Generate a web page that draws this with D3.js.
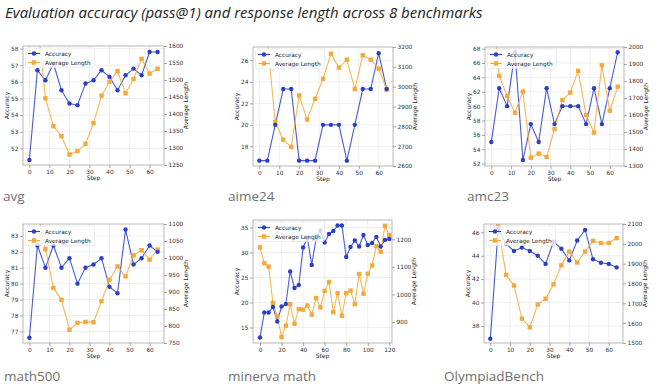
<!DOCTYPE html>
<html>
<head>
<meta charset="utf-8">
<script src="https://cdn.jsdelivr.net/npm/d3@7"></script>
<style>
  body { margin: 0; background: #fff; }
  svg { display: block; }
</style>
</head>
<body>
<svg id="chart" width="660" height="390"></svg>
<script>

// Data
var steps = [0, 4, 8, 12, 16, 20, 24, 28, 32, 36, 40, 44, 48, 52, 56, 60, 64];
var minervaSteps = [0, 4, 8, 12, 16, 20, 24, 28, 32, 36, 40, 44, 48, 52, 56, 60,
  64, 68, 72, 76, 80, 84, 88, 92, 96, 100, 104, 108, 112, 116, 120];

var avgAcc = [51.3, 56.7, 56.1, 57.1, 55.5, 54.7, 54.6, 55.9, 56.1, 56.7, 56.3, 55.5, 56.4, 56.8, 56.4, 57.8, 57.8];
var avgLen = [1750, 1680, 1446, 1364, 1335, 1281, 1291, 1312, 1373, 1454, 1495, 1526, 1461, 1503, 1562, 1519, 1533];

var aimeAcc = [16.67, 16.67, 20, 23.33, 23.33, 16.67, 16.67, 16.67, 20, 20, 20, 16.67, 20, 23.33, 23.33, 26.67, 23.33];
var aimeLen = [3400, 3230, 2822, 2733, 2696, 2956, 2834, 2939, 3040, 3166, 3096, 3136, 2988, 3158, 3136, 3091, 2985];

var amcAcc = [55, 62.5, 60, 67.5, 52.5, 57.5, 55, 62.5, 57.5, 60, 60, 60, 57.5, 62.5, 57.5, 62.5, 67.5];
var amcLen = [2300, 1830, 1712, 1613, 1738, 1349, 1373, 1353, 1517, 1688, 1732, 1860, 1600, 1497, 1892, 1625, 1767];

var math500Acc = [76.6, 82.4, 81.0, 82.4, 81.0, 81.6, 80.0, 81.0, 81.2, 81.6, 79.8, 79.4, 83.4, 81.2, 81.6, 82.4, 82.0];
var math500Len = [1200, 1140, 1026, 912, 877, 789, 809, 812, 811, 873, 936, 975, 946, 1008, 1023, 995, 1025];

var minervaAcc = [13.0, 18.0, 18.0, 19.1, 16.2, 19.2, 19.7, 26.2, 22.9, 23.5, 31.0, 32.9, 27.5, 32.7, 34.4, 32.0,
  33.7, 34.3, 35.4, 35.4, 29.1, 31.1, 32.4, 31.2, 33.5, 31.5, 31.9, 33.1, 31.2, 32.5, 32.7];
var minervaLen = [1171, 1113, 1101, 969, 921, 845, 887, 965, 894, 947, 945, 960, 927, 987, 953, 1013,
  1045, 936, 1005, 923, 1005, 1014, 965, 1074, 1003, 1075, 1105, 1175, 1155, 1249, 1215];

var olyAcc = [36.9, 46.3, 45.0, 44.4, 44.7, 44.4, 44.0, 43.3, 45.2, 44.6, 43.6, 45.3, 46.2, 43.7, 43.4, 43.3, 43.0];
var olyLen = [2150, 2088, 1843, 1790, 1623, 1579, 1694, 1723, 1796, 1892, 1961, 1906, 1961, 2015, 2004, 2004, 2029];

// Tick labels
var stepTicks = [0, 10, 20, 30, 40, 50, 60];
var minervaStepTicks = [0, 20, 40, 60, 80, 100, 120];
var avgAccTicks = [52, 53, 54, 55, 56, 57, 58];
var avgLenTicks = [1250, 1300, 1350, 1400, 1450, 1500, 1550, 1600];
var aimeAccTicks = [18, 20, 22, 24, 26];
var aimeLenTicks = [2600, 2700, 2800, 2900, 3000, 3100, 3200];
var amcAccTicks = [52, 54, 56, 58, 60, 62, 64, 66, 68];
var amcLenTicks = [1300, 1400, 1500, 1600, 1700, 1800, 1900, 2000];
var math500AccTicks = [77, 78, 79, 80, 81, 82, 83];
var math500LenTicks = [750, 800, 850, 900, 950, 1000, 1050, 1100];
var minervaAccTicks = [15, 20, 25, 30, 35];
var minervaLenTicks = [900, 1000, 1100, 1200];
var olyAccTicks = [38, 40, 42, 44, 46];
var olyLenTicks = [1500, 1600, 1700, 1800, 1900, 2000, 2100];

var titleText = 'Evaluation accuracy (pass@1) and response length across 8 benchmarks';

// Chart settings
var blue = '#2a3ec6';
var orange = '#f3a93b';
var axisFont = 'DejaVu Sans, sans-serif';
var labelFont = '"Open Sans", sans-serif';

var panels = [
  { name: 'avg', x: steps, acc: avgAcc, len: avgLen, xTicks: stepTicks, accTicks: avgAccTicks, lenTicks: avgLenTicks,
    box: [23, 164, 46, 165], xDom: [-3.2, 67.2], accDom: [51.0, 58.16], lenDom: [1250, 1600], lx: 3, ly: 201 },
  { name: 'aime24', x: steps, acc: aimeAcc, len: aimeLen, xTicks: stepTicks, accTicks: aimeAccTicks, lenTicks: aimeLenTicks,
    box: [253, 393, 47, 166], xDom: [-3.2, 67.2], accDom: [16.17, 27.24], lenDom: [2600, 3200], lx: 228, ly: 201 },
  { name: 'amc23', x: steps, acc: amcAcc, len: amcLen, xTicks: stepTicks, accTicks: amcAccTicks, lenTicks: amcLenTicks,
    box: [485, 624, 47, 166], xDom: [-3.2, 67.2], accDom: [51.67, 68.23], lenDom: [1300, 2000], lx: 467, ly: 201 },
  { name: 'math500', x: steps, acc: math500Acc, len: math500Len, xTicks: stepTicks, accTicks: math500AccTicks, lenTicks: math500LenTicks,
    box: [23, 164, 224, 343], xDom: [-3.2, 67.2], accDom: [76.27, 83.75], lenDom: [750, 1100], lx: 4, ly: 381 },
  { name: 'minerva math', x: minervaSteps, acc: minervaAcc, len: minervaLen, xTicks: minervaStepTicks, accTicks: minervaAccTicks, lenTicks: minervaLenTicks,
    box: [253, 392, 220, 343], xDom: [-6.5, 122.5], accDom: [11.9, 36.5], lenDom: [824, 1270], lx: 228, ly: 381 },
  { name: 'OlympiadBench', x: steps, acc: olyAcc, len: olyLen, xTicks: stepTicks, accTicks: olyAccTicks, lenTicks: olyLenTicks,
    box: [484, 623, 224, 343], xDom: [-3.2, 67.2], accDom: [36.54, 46.71], lenDom: [1500, 2100], lx: 444, ly: 381 }
];

var svg = d3.select('#chart');
var fmt = d3.format('d');

// Title
var title = svg.append('text')
    .attr('x', 5)
    .attr('y', 18)
    .attr('font-family', labelFont)
    .attr('font-style', 'italic')
    .attr('font-size', 14.5)
    .attr('fill', '#222')
    .text(titleText);
var tw = title.node().getComputedTextLength();
title.attr('font-size', 14.5 * 478 / tw);

panels.forEach(function (p, i) {
  drawPanel(p, i);
});

function styleAxis(g) {
  g.select('.domain').remove();
  g.selectAll('.tick line').attr('stroke', '#666').attr('stroke-width', 0.6);
  g.selectAll('.tick text')
    .attr('font-family', axisFont)
    .attr('font-size', 5.8)
    .attr('fill', '#333');
}

function drawPanel(p, i) {
  var x0 = p.box[0], x1 = p.box[1], y0 = p.box[2], y1 = p.box[3];

  var xScale = d3.scaleLinear().domain(p.xDom).range([x0, x1]);
  var yAcc = d3.scaleLinear().domain(p.accDom).range([y1, y0]);
  var yLen = d3.scaleLinear().domain(p.lenDom).range([y1, y0]);

  var g = svg.append('g');

  g.append('clipPath')
      .attr('id', 'clip' + i)
    .append('rect')
      .attr('x', x0).attr('y', y0)
      .attr('width', x1 - x0).attr('height', y1 - y0);

  // Grid
  g.selectAll('.gx')
      .data(p.xTicks)
      .enter()
    .append('line')
      .attr('x1', function (d) { return xScale(d); })
      .attr('x2', function (d) { return xScale(d); })
      .attr('y1', y0).attr('y2', y1)
      .attr('stroke', '#e4e4e4')
      .attr('stroke-width', 0.6);

  g.selectAll('.gy')
      .data(p.accTicks)
      .enter()
    .append('line')
      .attr('x1', x0).attr('x2', x1)
      .attr('y1', function (d) { return yAcc(d); })
      .attr('y2', function (d) { return yAcc(d); })
      .attr('stroke', '#e4e4e4')
      .attr('stroke-width', 0.6);

  // Axes
  g.append('g')
      .attr('transform', 'translate(0,' + y1 + ')')
      .call(d3.axisBottom(xScale).tickValues(p.xTicks).tickFormat(fmt).tickSize(3).tickPadding(1.5))
      .call(styleAxis);

  g.append('g')
      .attr('transform', 'translate(' + x0 + ',0)')
      .call(d3.axisLeft(yAcc).tickValues(p.accTicks).tickFormat(fmt).tickSize(3).tickPadding(1.5))
      .call(styleAxis);

  g.append('g')
      .attr('transform', 'translate(' + x1 + ',0)')
      .call(d3.axisRight(yLen).tickValues(p.lenTicks).tickFormat(fmt).tickSize(3).tickPadding(1.5))
      .call(styleAxis);

  // Axis labels
  g.append('text')
      .attr('x', (x0 + x1) / 2)
      .attr('y', y1 + 15)
      .attr('text-anchor', 'middle')
      .attr('font-family', axisFont)
      .attr('font-size', 6)
      .attr('fill', '#222')
      .text('Step');

  g.append('text')
      .attr('transform', 'translate(' + (x0 - 14) + ',' + ((y0 + y1) / 2) + ') rotate(-90)')
      .attr('text-anchor', 'middle')
      .attr('font-family', axisFont)
      .attr('font-size', 6)
      .attr('fill', '#222')
      .text('Accuracy');

  g.append('text')
      .attr('transform', 'translate(' + (x1 + 24) + ',' + ((y0 + y1) / 2) + ') rotate(-90)')
      .attr('text-anchor', 'middle')
      .attr('font-family', axisFont)
      .attr('font-size', 6)
      .attr('fill', '#222')
      .text('Average Length');

  // Series
  var plot = g.append('g').attr('clip-path', 'url(#clip' + i + ')');

  var accLine = d3.line()
    .x(function (d, k) { return xScale(p.x[k]); })
    .y(function (d) { return yAcc(d); });

  var lenLine = d3.line()
    .x(function (d, k) { return xScale(p.x[k]); })
    .y(function (d) { return yLen(d); });

  plot.append('path')
      .attr('d', accLine(p.acc))
      .attr('fill', 'none')
      .attr('stroke', blue)
      .attr('stroke-width', 1.1)
      .attr('opacity', 0.85);

  plot.append('path')
      .attr('d', lenLine(p.len))
      .attr('fill', 'none')
      .attr('stroke', orange)
      .attr('stroke-width', 1.1)
      .attr('opacity', 0.85);

  plot.selectAll('.len')
      .data(p.len)
      .enter()
    .append('rect')
      .attr('x', function (d, k) { return xScale(p.x[k]) - 2.2; })
      .attr('y', function (d) { return yLen(d) - 2.2; })
      .attr('width', 4.4)
      .attr('height', 4.4)
      .attr('fill', orange);

  plot.selectAll('.acc')
      .data(p.acc)
      .enter()
    .append('circle')
      .attr('cx', function (d, k) { return xScale(p.x[k]); })
      .attr('cy', function (d) { return yAcc(d); })
      .attr('r', 2.2)
      .attr('fill', blue);

  // Frame
  g.append('rect')
      .attr('x', x0).attr('y', y0)
      .attr('width', x1 - x0).attr('height', y1 - y0)
      .attr('fill', 'none')
      .attr('stroke', '#999')
      .attr('stroke-width', 0.7);

  // Legend
  var lg = g.append('g').attr('transform', 'translate(' + (x0 + 2.5) + ',' + (y0 + 2) + ')');
  lg.append('rect')
      .attr('width', 69).attr('height', 19.5)
      .attr('rx', 1.5)
      .attr('fill', '#fff')
      .attr('fill-opacity', 0.8)
      .attr('stroke', '#ddd')
      .attr('stroke-width', 0.5);

  var rows = [
    { label: 'Accuracy', color: blue, shape: 'circle' },
    { label: 'Average Length', color: orange, shape: 'square' }
  ];

  rows.forEach(function (r, k) {
    var cy = 5.5 + k * 9;
    lg.append('line')
        .attr('x1', 2.5).attr('x2', 14.5)
        .attr('y1', cy).attr('y2', cy)
        .attr('stroke', r.color)
        .attr('stroke-width', 1.1);
    if (r.shape === 'circle') {
      lg.append('circle').attr('cx', 8.5).attr('cy', cy).attr('r', 2.2).attr('fill', r.color);
    } else {
      lg.append('rect').attr('x', 6.3).attr('y', cy - 2.2).attr('width', 4.4).attr('height', 4.4).attr('fill', r.color);
    }
    lg.append('text')
        .attr('x', 19.5)
        .attr('y', cy + 2)
        .attr('font-family', axisFont)
        .attr('font-size', 5.8)
        .attr('fill', '#222')
        .text(r.label);
  });

  // Benchmark name
  svg.append('text')
      .attr('x', p.lx)
      .attr('y', p.ly)
      .attr('font-family', labelFont)
      .attr('font-size', 13.5)
      .attr('fill', '#707070')
      .text(p.name);
}
</script>
</body>
</html>
